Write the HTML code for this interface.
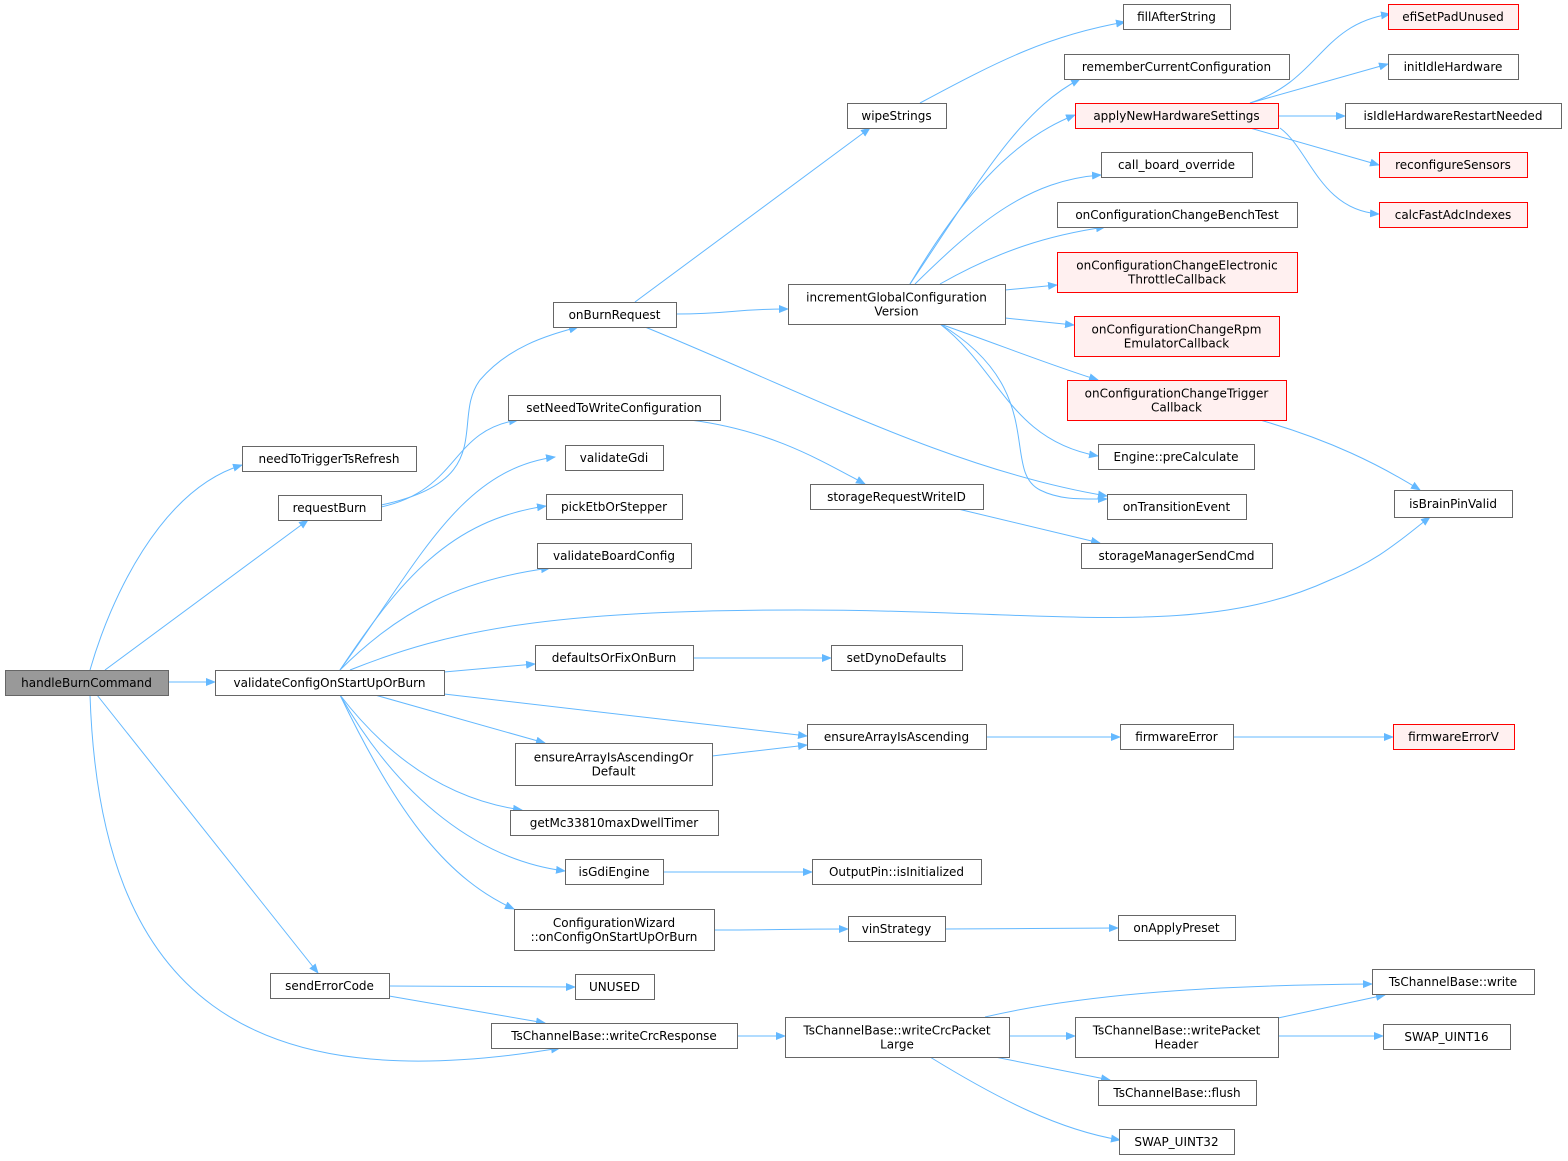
<!DOCTYPE html>
<html><head><meta charset="utf-8">
<style>
html,body{margin:0;padding:0;background:#fff;}
svg{display:block;}
text{font-family:"DejaVu Sans","Liberation Sans",sans-serif;font-size:12px;fill:#000;}
</style></head>
<body>
<svg id="g" width="1568" height="1161" viewBox="0 0 1568 1161" xmlns="http://www.w3.org/2000/svg">
<defs><marker id="a" markerWidth="10" markerHeight="8" refX="9" refY="4" orient="auto" markerUnits="userSpaceOnUse"><path d="M0,0 L10,4 L0,8 z" fill="#63b8ff"/></marker></defs>
<g id="edges"></g><g id="nodes"></g>
</svg>
<script>
var N=[
["handleBurnCommand",5,670,168,695,"g"],
["needToTriggerTsRefresh",242,446,416,471],
["requestBurn",278,495,381,520],
["validateConfigOnStartUpOrBurn",215,670,444,695],
["sendErrorCode",270,973,389,998],
["onBurnRequest",553,302,676,327],
["setNeedToWriteConfiguration",508,395,720,420],
["validateGdi",565,445,663,470],
["pickEtbOrStepper",546,494,682,519],
["validateBoardConfig",537,543,691,568],
["defaultsOrFixOnBurn",535,645,693,670],
["ensureArrayIsAscendingOr|Default",515,743,712,785],
["getMc33810maxDwellTimer",510,810,718,835],
["isGdiEngine",565,859,663,884],
["ConfigurationWizard|::onConfigOnStartUpOrBurn",514,909,714,950],
["UNUSED",575,974,654,999],
["TsChannelBase::writeCrcResponse",491,1023,737,1048],
["wipeStrings",847,103,946,128],
["incrementGlobalConfiguration|Version",788,284,1005,324],
["storageRequestWriteID",810,484,983,509],
["setDynoDefaults",831,645,962,670],
["ensureArrayIsAscending",807,724,986,749],
["OutputPin::isInitialized",812,859,981,884],
["vinStrategy",848,916,945,941],
["TsChannelBase::writeCrcPacket|Large",785,1017,1009,1057],
["fillAfterString",1123,4,1230,29],
["rememberCurrentConfiguration",1064,54,1289,79],
["applyNewHardwareSettings",1075,103,1278,128,"r"],
["call_board_override",1101,152,1252,177],
["onConfigurationChangeBenchTest",1057,202,1297,227],
["onConfigurationChangeElectronic|ThrottleCallback",1057,252,1297,292,"r"],
["onConfigurationChangeRpm|EmulatorCallback",1074,316,1279,356,"r"],
["onConfigurationChangeTrigger|Callback",1067,380,1286,420,"r"],
["Engine::preCalculate",1098,444,1254,469],
["onTransitionEvent",1107,494,1246,519],
["storageManagerSendCmd",1081,543,1272,568],
["firmwareError",1120,724,1233,749],
["onApplyPreset",1118,915,1235,940],
["TsChannelBase::writePacket|Header",1075,1017,1278,1057],
["TsChannelBase::flush",1098,1080,1256,1105],
["SWAP_UINT32",1119,1129,1234,1154],
["efiSetPadUnused",1388,4,1518,29,"r"],
["initIdleHardware",1388,54,1518,79],
["isIdleHardwareRestartNeeded",1345,103,1561,128],
["reconfigureSensors",1379,152,1527,177,"r"],
["calcFastAdcIndexes",1379,202,1527,227,"r"],
["isBrainPinValid",1394,490,1512,517],
["firmwareErrorV",1393,724,1514,749,"r"],
["TsChannelBase::write",1372,969,1534,994],
["SWAP_UINT16",1383,1024,1510,1049]
];
var E=[
["M90,670 C110,600 160,490 242,465"],
["M105,670 L308,520"],
[168,682,215,682],
["M97,695 L318,973"],
["M90,695 C100,1000 250,1100 560,1048"],
["M381,505 C500,480 450,420 480,380 C510,345 550,335 578,327"],
["M381,507 C460,490 450,430 518,420"],
["M340,670 C420,560 460,470 555,457"],
["M340,670 C400,580 450,520 546,506"],
["M340,670 C400,610 460,580 550,568"],
["M350,670 C450,630 550,610 800,610 C1050,610 1200,640 1330,580 C1380,560 1400,540 1430,517"],
["M444,672 L535,664"],
["M444,694 L807,736"],
["M375,695 L545,743"],
["M340,695 C390,760 450,800 522,810"],
["M340,695 C400,800 480,860 565,871"],
["M340,695 C400,820 450,880 514,909"],
[389,986,575,987],
["M389,996 L545,1023"],
["M635,302 L870,128"],
[676,314,788,309],
["M645,327 C800,390 950,470 1107,496"],
["M690,420 C770,430 820,460 865,484"],
[693,658,831,658],
["M712,756 L807,745"],
[986,737,1120,737],
[1233,737,1393,737],
[663,872,812,872],
[714,930,848,929],
[945,929,1118,928],
[737,1036,785,1036],
["M985,1017 C1100,990 1250,985 1372,984"],
[1009,1036,1075,1036],
["M995,1057 L1110,1080"],
["M930,1057 C1000,1100 1060,1130 1120,1140"],
["M1278,1018 L1385,995"],
[1278,1036,1383,1036],
["M920,103 C1000,60 1050,35 1125,22"],
["M958,509 L1100,543"],
["M910,284 C980,180 1020,110 1080,79"],
["M910,284 C960,200 1010,140 1075,115"],
["M915,284 C980,220 1030,180 1101,175"],
["M940,284 C1000,250 1050,235 1105,227"],
["M1005,290 L1057,285"],
["M1005,318 L1074,325"],
["M940,324 C1000,345 1050,365 1098,380"],
["M940,324 C1000,370 1010,440 1098,456"],
["M940,324 C1050,390 1000,470 1040,490 C1060,500 1080,499 1107,499"],
["M1250,103 C1320,80 1320,25 1390,14"],
["M1250,103 L1388,64"],
[1278,116,1345,116],
["M1250,128 L1379,165"],
["M1280,128 C1310,150 1320,210 1379,214"],
["M1260,420 C1330,440 1380,465 1420,490"]
];
var ns="http://www.w3.org/2000/svg",eg=document.getElementById("edges"),ng=document.getElementById("nodes");
E.forEach(function(e){var d;if(typeof e[0]=="string")d=e[0];else{var dx=(e[2]-e[0])/2;d="M"+e[0]+","+e[1]+" C"+(e[0]+dx)+","+e[1]+" "+(e[2]-dx)+","+e[3]+" "+e[2]+","+e[3];}
var p=document.createElementNS(ns,"path");p.setAttribute("d",d);p.setAttribute("fill","none");p.setAttribute("stroke","#63b8ff");p.setAttribute("stroke-width","1");p.setAttribute("marker-end","url(#a)");eg.appendChild(p);});
N.forEach(function(n){var r=document.createElementNS(ns,"rect");r.setAttribute("x",n[1]+.5);r.setAttribute("y",n[2]+.5);r.setAttribute("width",n[3]-n[1]);r.setAttribute("height",n[4]-n[2]);
var f="#fff",s="#666";if(n[5]=="g"){f="#999";s="#666";}if(n[5]=="r"){f="#fff0f0";s="#ff0000";}
r.setAttribute("fill",f);r.setAttribute("stroke",s);ng.appendChild(r);
var L=n[0].split("|"),cx=(n[1]+n[3])/2,cy=(n[2]+n[4])/2;
L.forEach(function(l,i){var t=document.createElementNS(ns,"text");t.setAttribute("x",cx);t.setAttribute("y",cy+4.5+(i-(L.length-1)/2)*14);t.setAttribute("text-anchor","middle");t.textContent=l;ng.appendChild(t);});});
</script>
</body></html>
